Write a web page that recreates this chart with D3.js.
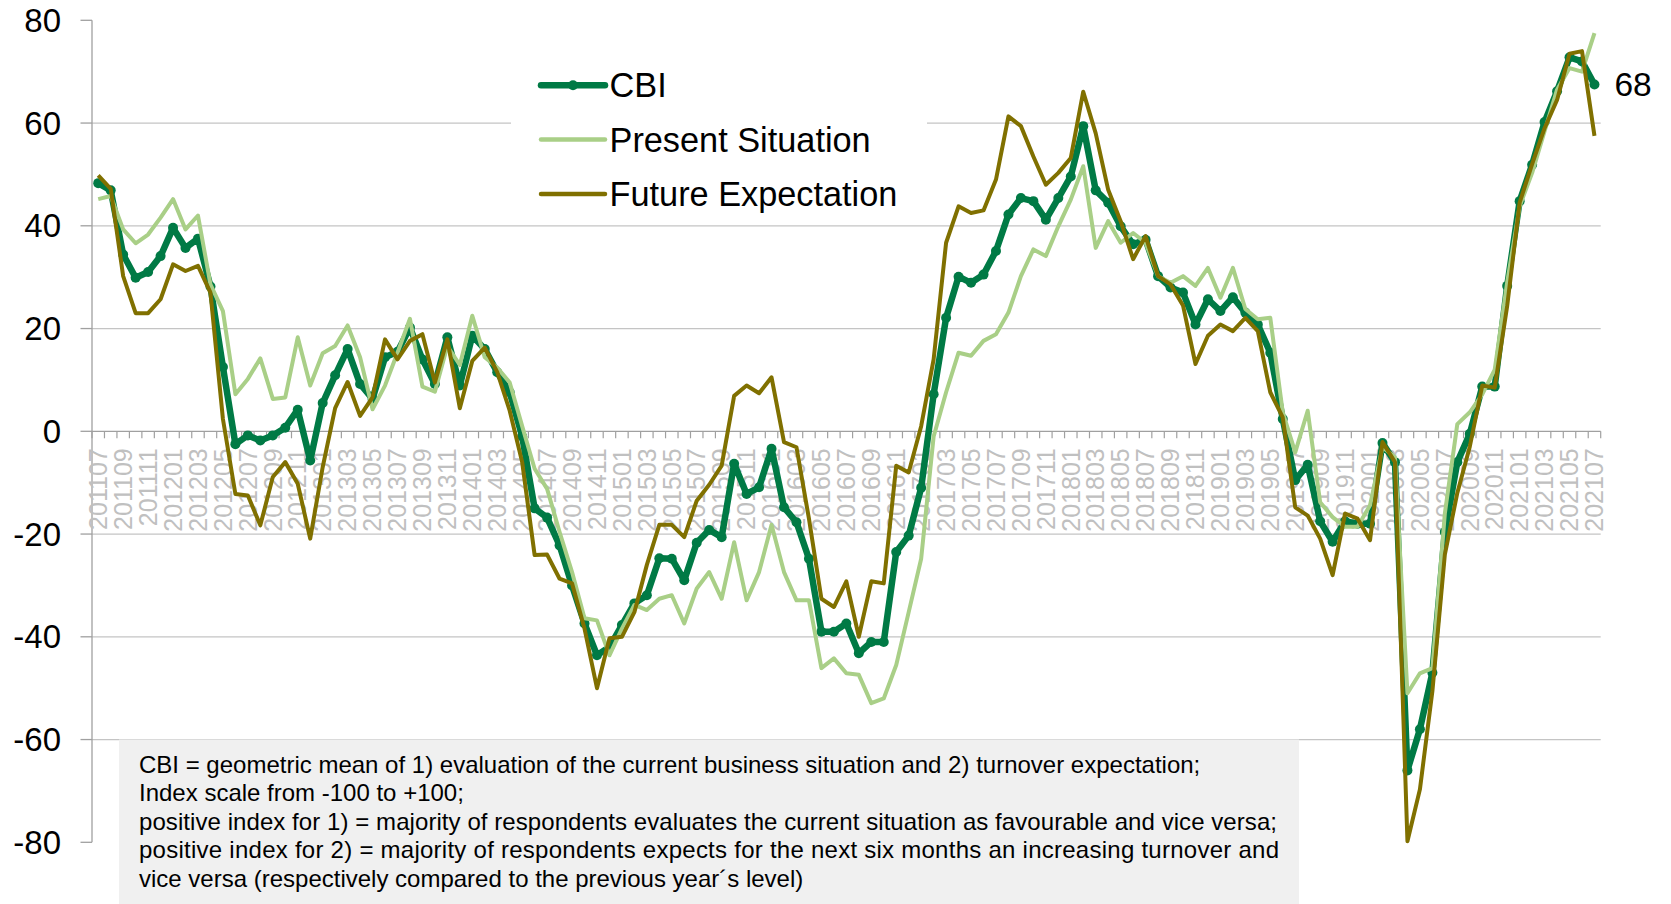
<!DOCTYPE html>
<html>
<head>
<meta charset="utf-8">
<script src="https://cdn.jsdelivr.net/npm/d3@7"></script>
<style>
  body { margin: 0; background: #fff; }
  svg { display: block; font-family: "Liberation Sans", Arial, sans-serif; }
</style>
</head>
<body>
<div id="chart"></div>
<script>
const months = [
  "201107","201108","201109","201110","201111","201112",
  "201201","201202","201203","201204","201205","201206","201207","201208","201209","201210","201211","201212",
  "201301","201302","201303","201304","201305","201306","201307","201308","201309","201310","201311","201312",
  "201401","201402","201403","201404","201405","201406","201407","201408","201409","201410","201411","201412",
  "201501","201502","201503","201504","201505","201506","201507","201508","201509","201510","201511","201512",
  "201601","201602","201603","201604","201605","201606","201607","201608","201609","201610","201611","201612",
  "201701","201702","201703","201704","201705","201706","201707","201708","201709","201710","201711","201712",
  "201801","201802","201803","201804","201805","201806","201807","201808","201809","201810","201811","201812",
  "201901","201902","201903","201904","201905","201906","201907","201908","201909","201910","201911","201912",
  "202001","202002","202003","202004","202005","202006","202007","202008","202009","202010","202011","202012",
  "202101","202102","202103","202104","202105","202106","202107"
];

const cbi = [
  48.3, 46.9, 34.4, 29.9, 31.0, 34.1, 39.6, 35.7, 37.5, 28.2, 12.5, -2.5,
  -0.8, -1.8, -0.8, 0.7, 4.2, -5.7, 5.5, 10.9, 16.0, 9.2, 6.3, 14.4,
  15.5, 20.2, 14.0, 9.2, 18.3, 8.9, 18.6, 16.0, 11.5, 7.6, -1.0, -15.0,
  -16.8, -22.2, -30.0, -37.4, -43.6, -42.0, -37.7, -33.5, -31.9, -24.7, -24.8, -29.0,
  -21.7, -19.2, -20.6, -6.3, -12.2, -10.9, -3.4, -14.8, -17.7, -24.8, -39.0, -39.0,
  -37.4, -43.2, -41.0, -41.0, -23.5, -20.3, -11.0, 7.2, 22.1, 30.1, 28.9, 30.5,
  35.1, 42.2, 45.4, 44.8, 41.2, 45.4, 49.6, 59.4, 46.9, 44.5, 39.9, 36.4,
  37.3, 30.2, 28.0, 27.0, 20.8, 25.7, 23.4, 26.1, 23.1, 20.8, 15.3, 2.4,
  -9.5, -6.5, -17.5, -21.5, -17.5, -18.0, -18.0, -2.3, -6.0, -66.0, -58.0, -47.0,
  -19.6, -6.0, -0.5, 8.7, 8.7, 28.3, 44.8, 51.9, 60.2, 66.2, 72.8, 72.0,
  67.5
];

const present = [
  45.2, 45.8, 39.3, 36.6, 38.3, 41.6, 45.2, 39.3, 42.0, 28.6, 23.4, 7.2,
  10.2, 14.2, 6.3, 6.6, 18.3, 8.9, 15.2, 16.6, 20.6, 14.4, 4.3, 8.9,
  15.3, 21.9, 8.7, 7.7, 16.6, 12.9, 22.5, 14.4, 12.4, 9.5, 1.0, -7.3,
  -11.2, -19.6, -27.4, -36.4, -36.8, -43.6, -38.4, -33.8, -34.8, -32.6, -31.9, -37.4,
  -30.6, -27.4, -32.6, -21.6, -32.9, -27.4, -18.2, -27.4, -32.9, -32.9, -46.1, -44.2,
  -47.1, -47.4, -52.9, -52.0, -45.5, -35.2, -24.8, -1.0, 7.6, 15.3, 14.7, 17.6,
  18.9, 23.1, 30.2, 35.4, 34.1, 39.9, 45.1, 51.6, 35.7, 40.9, 36.7, 38.6,
  36.7, 30.2, 28.9, 30.2, 28.3, 31.8, 26.0, 31.8, 23.8, 21.8, 22.1, 3.7,
  -4.1, 4.0, -13.8, -16.7, -18.6, -18.6, -14.4, -3.1, -5.0, -51.0, -47.1, -46.1,
  -16.0, 1.4, 3.7, 7.2, 12.0, 29.0, 43.8, 50.3, 58.4, 66.5, 70.7, 70.0,
  77.5
];

const future = [
  49.8, 47.2, 30.2, 23.0, 23.0, 25.7, 32.5, 31.2, 32.2, 27.0, 2.4, -12.2,
  -12.5, -18.3, -8.9, -6.0, -10.2, -20.9, -7.0, 4.5, 9.6, 3.0, 6.6, 17.9,
  14.0, 17.6, 18.9, 9.5, 17.9, 4.5, 13.7, 16.3, 11.5, 4.0, -6.0, -24.1,
  -24.0, -28.7, -29.6, -38.4, -50.0, -40.3, -40.0, -35.2, -26.0, -18.2, -18.2, -20.6,
  -13.5, -10.4, -6.7, 6.9, 8.9, 7.4, 10.5, -2.1, -3.1, -17.0, -32.6, -34.2,
  -29.2, -40.0, -29.2, -29.6, -6.7, -8.0, 1.0, 14.0, 36.7, 43.8, 42.5, 43.0,
  49.0, 61.3, 59.4, 53.5, 48.0, 50.3, 53.2, 66.1, 58.0, 47.0, 40.9, 33.5,
  38.0, 30.2, 28.6, 24.5, 13.1, 18.6, 20.8, 19.5, 22.1, 19.5, 7.6, 2.7,
  -14.8, -16.4, -20.9, -28.0, -16.0, -17.0, -21.2, -2.1, -6.0, -79.8, -69.7, -50.6,
  -24.0, -12.0, -3.0, 8.9, 8.5, 24.4, 44.5, 52.0, 59.0, 64.5, 73.5, 74.0,
  57.5
];

const yTicks = [80, 60, 40, 20, 0, -20, -40, -60, -80];
const gridValues = [60, 40, 20, -20, -40, -60];
const seriesNames = ["CBI", "Present Situation", "Future Expectation"];
const noteLines = [
  "CBI = geometric mean of 1) evaluation of the current business situation and 2) turnover expectation;",
  "Index scale from -100 to +100;",
  "positive index for 1) = majority of respondents evaluates the current situation as favourable and vice versa;",
  "positive index for 2) = majority of respondents expects for the next six months an increasing turnover and",
  "vice versa (respectively compared to the previous year\u00b4s level)"
];

const width = 1671;
const height = 904;
const colors = { cbi: "#007a45", present: "#a9cf87", future: "#807000" };

const svg = d3.select("#chart").append("svg")
  .attr("width", width)
  .attr("height", height);

const x = d3.scaleBand().domain(months).range([92, 1600.7]);
const y = d3.scaleLinear().domain([-80, 80]).range([842.3, 20.3]);
const cx = (i) => x(months[i]) + x.bandwidth() / 2;

// gridlines
svg.append("g").selectAll("line").data(gridValues).enter().append("line")
  .attr("x1", 92).attr("x2", 1600.7)
  .attr("y1", (d) => y(d)).attr("y2", (d) => y(d))
  .attr("stroke", "#c4c4c4").attr("stroke-width", 1.3);

// note box
const note = svg.append("g");
note.append("rect")
  .attr("x", 119).attr("y", 739.5)
  .attr("width", 1180).attr("height", height - 739.5)
  .attr("fill", "#f0f0f0");
const noteText = note.selectAll("text").data(noteLines).enter().append("text")
  .attr("x", 139)
  .attr("y", (d, i) => 772.5 + i * 28.5)
  .attr("font-size", 24)
  .attr("fill", "#000")
  .text((d) => d);
// lines 3 and 4 are justified to the right edge in the original
noteText.filter((d, i) => i === 2 || i === 3)
  .attr("textLength", (d, i) => (i === 0 ? 1138 : 1140))
  .attr("lengthAdjust", "spacing");

// y axis
const yAxis = svg.append("g");
yAxis.append("line")
  .attr("x1", 92).attr("x2", 92)
  .attr("y1", y(80)).attr("y2", y(-80))
  .attr("stroke", "#a0a0a0").attr("stroke-width", 1.3);
yAxis.selectAll(".tick").data(yTicks).enter().append("line")
  .attr("x1", 80.5).attr("x2", 92)
  .attr("y1", (d) => y(d)).attr("y2", (d) => y(d))
  .attr("stroke", "#a0a0a0").attr("stroke-width", 1.3);
yAxis.selectAll("text").data(yTicks).enter().append("text")
  .attr("x", 61)
  .attr("y", (d) => y(d))
  .attr("dy", "0.35em")
  .attr("text-anchor", "end")
  .attr("font-size", 33)
  .attr("fill", "#000")
  .text((d) => d);

// x axis at zero
const xAxis = svg.append("g");
xAxis.append("line")
  .attr("x1", 92).attr("x2", 1600.7)
  .attr("y1", y(0)).attr("y2", y(0))
  .attr("stroke", "#a0a0a0").attr("stroke-width", 1.3);
const tickPos = months.map((m) => x(m)).concat([x.range()[1]]);
xAxis.selectAll(".xt").data(tickPos).enter().append("line")
  .attr("x1", (d) => d).attr("x2", (d) => d)
  .attr("y1", y(0)).attr("y2", y(0) + 7)
  .attr("stroke", "#a0a0a0").attr("stroke-width", 1.2);
xAxis.selectAll("text").data(months.filter((m, i) => i % 2 === 0)).enter().append("text")
  .attr("transform", (d) => `translate(${x(d) + x.bandwidth() / 2},${y(0) + 17}) rotate(-90)`)
  .attr("dy", "0.35em")
  .attr("text-anchor", "end")
  .attr("font-size", 25)
  .attr("fill", "#c0c0c0")
  .text((d) => d);

// series
const line = d3.line()
  .x((d, i) => cx(i))
  .y((d) => y(d));

svg.append("path").datum(cbi)
  .attr("d", line)
  .attr("fill", "none")
  .attr("stroke", colors.cbi)
  .attr("stroke-width", 6.5)
  .attr("stroke-linejoin", "round");
svg.append("g").selectAll("circle").data(cbi).enter().append("circle")
  .attr("cx", (d, i) => cx(i))
  .attr("cy", (d) => y(d))
  .attr("r", 5)
  .attr("fill", colors.cbi);

svg.append("path").datum(present)
  .attr("d", line)
  .attr("fill", "none")
  .attr("stroke", colors.present)
  .attr("stroke-width", 4)
  .attr("stroke-linejoin", "round");

svg.append("path").datum(future)
  .attr("d", line)
  .attr("fill", "none")
  .attr("stroke", colors.future)
  .attr("stroke-width", 4)
  .attr("stroke-linejoin", "round");

// last value label
const last = cbi.length - 1;
svg.append("text")
  .attr("x", cx(last) + 20)
  .attr("y", y(cbi[last]))
  .attr("dy", "0.35em")
  .attr("font-size", 33.5)
  .attr("fill", "#000")
  .text(Math.round(cbi[last]));

// legend
const legend = svg.append("g");
legend.append("rect")
  .attr("x", 511).attr("y", 58)
  .attr("width", 416).attr("height", 160)
  .attr("fill", "#fff");
const legendItems = [
  { name: seriesNames[0], color: colors.cbi, w: 6.5, marker: true },
  { name: seriesNames[1], color: colors.present, w: 4.5, marker: false },
  { name: seriesNames[2], color: colors.future, w: 4.5, marker: false }
];
legendItems.forEach((d, i) => {
  const ly = 85.3 + i * 54.3;
  legend.append("line")
    .attr("x1", 541).attr("x2", 605)
    .attr("y1", ly).attr("y2", ly)
    .attr("stroke", d.color)
    .attr("stroke-width", d.w)
    .attr("stroke-linecap", "round");
  if (d.marker) {
    legend.append("circle")
      .attr("cx", 573).attr("cy", ly).attr("r", 5)
      .attr("fill", d.color);
  }
  legend.append("text")
    .attr("x", 609.5)
    .attr("y", ly)
    .attr("dy", "0.35em")
    .attr("font-size", 34.3)
    .attr("fill", "#000")
    .text(d.name);
});
</script>
</body>
</html>
